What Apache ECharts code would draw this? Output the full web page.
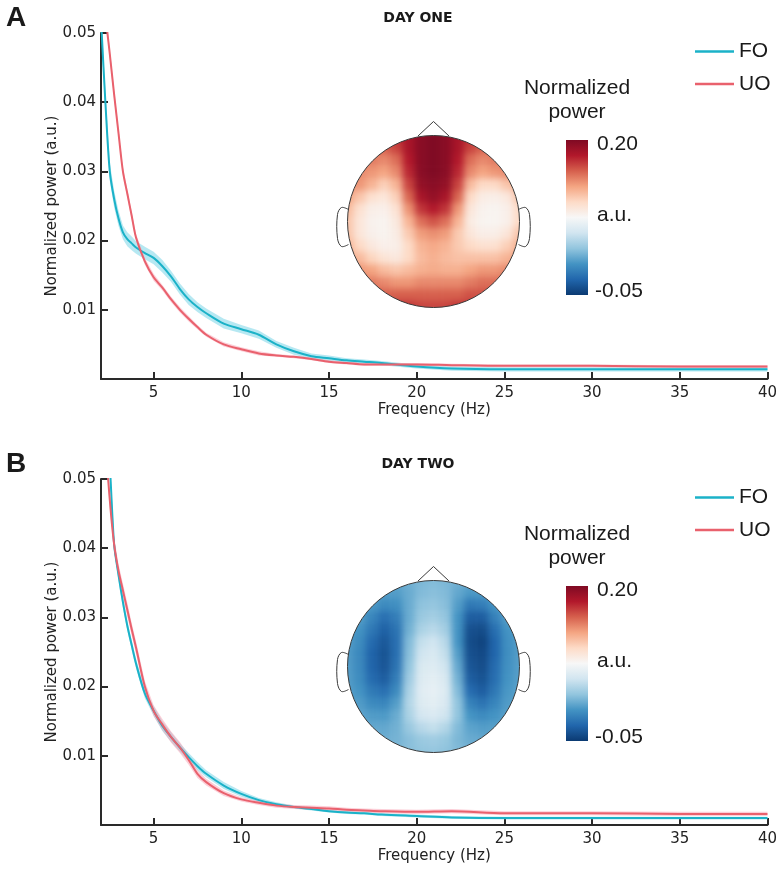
<!DOCTYPE html>
<html>
<head>
<meta charset="utf-8">
<title>Normalized power spectra, day one and day two</title>
<script src="https://cdn.jsdelivr.net/npm/echarts@6.0.0/dist/echarts.min.js"></script>
<style>
  html, body { margin: 0; padding: 0; background: #fff; }
  #wrap { position: relative; width: 780px; height: 870px; }
  #topo, #main { position: absolute; left: 0; top: 0; width: 780px; height: 870px; }
  /* scalp maps sit under the line chart, softened so the cells read as a smooth map */
  #topo { z-index: 1; filter: blur(3.5px); }
  #main { z-index: 2; }
</style>
</head>
<body>
<div id="wrap"><div id="topo"></div><div id="main"></div></div>
<script>
// ---- data ----
const freqs = [2, 2.25, 2.5, 2.75, 3, 3.25, 3.5, 3.75, 4, 4.5, 5, 5.5, 6, 6.5, 7, 7.5, 8,
  9, 10, 11, 12, 13, 14, 15, 16, 17, 18, 20, 22, 25, 30, 35, 40];

// day one
const foDay1 = [0.052, 0.040, 0.030, 0.026, 0.0232, 0.0212, 0.0202, 0.0196, 0.0190,
  0.0182, 0.0175, 0.0163, 0.0148, 0.0130, 0.0115, 0.0104, 0.0095,
  0.0080, 0.0072, 0.0064, 0.0050, 0.0040, 0.0033, 0.0030, 0.0027, 0.0025, 0.0023,
  0.0018, 0.0015, 0.0014, 0.0014, 0.0014, 0.0014];
const uoDay1 = [0.065, 0.053, 0.047, 0.0411, 0.0355, 0.0300, 0.0268, 0.0236, 0.0204,
  0.0170, 0.0147, 0.0132, 0.0115, 0.0100, 0.0087, 0.0075, 0.0064,
  0.0050, 0.0043, 0.0037, 0.0034, 0.0032, 0.0029, 0.0025, 0.0023, 0.0021, 0.0021,
  0.0021, 0.0020, 0.0019, 0.0019, 0.0018, 0.0018];
const foDay1Sem = [0.0015, 0.0014, 0.0013, 0.0012, 0.0011, 0.0010, 0.0010, 0.0010, 0.0009,
  0.0009, 0.0009, 0.0009, 0.0008, 0.0008, 0.0008, 0.0007, 0.0007,
  0.0007, 0.0006, 0.0006, 0.0005, 0.0005, 0.0004, 0.0004, 0.0003, 0.0003, 0.0003,
  0.0003, 0.0003, 0.0003, 0.0003, 0.0003, 0.0003];
const uoDay1Sem = [0.0008, 0.0008, 0.0007, 0.0007, 0.0006, 0.0006, 0.0006, 0.0005, 0.0005,
  0.0005, 0.0005, 0.0004, 0.0004, 0.0004, 0.0004, 0.0003, 0.0003,
  0.0003, 0.0003, 0.0003, 0.0002, 0.0002, 0.0002, 0.0002, 0.0002, 0.0002, 0.0002,
  0.0002, 0.0002, 0.0002, 0.0002, 0.0002, 0.0002];

// day two
const foDay2 = [0.075, 0.060, 0.052, 0.0405, 0.0361, 0.0322, 0.0288, 0.0260, 0.0233,
  0.0190, 0.0165, 0.0143, 0.0127, 0.0112, 0.0098, 0.0085, 0.0074,
  0.0057, 0.0045, 0.0036, 0.0030, 0.0026, 0.0023, 0.0020, 0.0018, 0.0017, 0.0015,
  0.0013, 0.0011, 0.0010, 0.0010, 0.0010, 0.0010];
const uoDay2 = [0.070, 0.056, 0.047, 0.0405, 0.0367, 0.0339, 0.0311, 0.0283, 0.0256,
  0.0200, 0.0165, 0.0145, 0.0127, 0.0112, 0.0094, 0.0074, 0.0062,
  0.0046, 0.0037, 0.0032, 0.0028, 0.0026, 0.0025, 0.0024, 0.0022, 0.0021, 0.0020,
  0.0019, 0.0020, 0.0017, 0.0017, 0.0016, 0.0016];
const foDay2Sem = [0.0012, 0.0011, 0.0010, 0.0009, 0.0008, 0.0008, 0.0007, 0.0007, 0.0007,
  0.0007, 0.0007, 0.0007, 0.0007, 0.0006, 0.0006, 0.0006, 0.0005,
  0.0005, 0.0004, 0.0003, 0.0003, 0.0002, 0.0002, 0.0002, 0.0002, 0.0002, 0.0002,
  0.0002, 0.0002, 0.0002, 0.0002, 0.0002, 0.0002];
const uoDay2Sem = [0.0014, 0.0013, 0.0012, 0.0011, 0.0010, 0.0010, 0.0010, 0.0009, 0.0009,
  0.0008, 0.0008, 0.0008, 0.0008, 0.0008, 0.0007, 0.0006, 0.0005,
  0.0004, 0.0003, 0.0003, 0.0003, 0.0003, 0.0003, 0.0003, 0.0003, 0.0003, 0.0003,
  0.0003, 0.0003, 0.0003, 0.0003, 0.0003, 0.0003];

const xTicks = [5, 10, 15, 20, 25, 30, 35, 40];
const yTicks = [0.01, 0.02, 0.03, 0.04, 0.05];
const panelTitles = ['DAY ONE', 'DAY TWO'];
const panelLetters = ['A', 'B'];
const colorbarLabels = ['0.20', 'a.u.', '-0.05'];
const colorRange = [-0.05, 0.20];

// scalp maps, rows front (top) to back, columns left to right
const topoDay1 = [
  [0.150, 0.150, 0.150, 0.160, 0.170, 0.180, 0.195, 0.200, 0.195, 0.180, 0.170, 0.160, 0.150, 0.150, 0.150],
  [0.140, 0.140, 0.140, 0.150, 0.160, 0.180, 0.195, 0.200, 0.195, 0.180, 0.160, 0.150, 0.140, 0.140, 0.140],
  [0.140, 0.140, 0.140, 0.135, 0.145, 0.175, 0.195, 0.200, 0.195, 0.175, 0.145, 0.135, 0.140, 0.140, 0.140],
  [0.135, 0.135, 0.130, 0.125, 0.135, 0.170, 0.195, 0.200, 0.195, 0.170, 0.135, 0.125, 0.130, 0.135, 0.135],
  [0.135, 0.130, 0.118, 0.105, 0.118, 0.160, 0.190, 0.195, 0.190, 0.160, 0.115, 0.100, 0.100, 0.110, 0.125],
  [0.125, 0.110, 0.095, 0.090, 0.105, 0.148, 0.180, 0.190, 0.180, 0.148, 0.100, 0.085, 0.083, 0.088, 0.110],
  [0.115, 0.095, 0.083, 0.082, 0.094, 0.132, 0.165, 0.175, 0.165, 0.130, 0.090, 0.080, 0.078, 0.082, 0.100],
  [0.110, 0.090, 0.080, 0.079, 0.088, 0.118, 0.145, 0.155, 0.145, 0.118, 0.086, 0.079, 0.078, 0.082, 0.100],
  [0.110, 0.090, 0.081, 0.079, 0.085, 0.108, 0.128, 0.133, 0.128, 0.108, 0.090, 0.083, 0.083, 0.090, 0.110],
  [0.118, 0.100, 0.088, 0.082, 0.083, 0.100, 0.118, 0.123, 0.118, 0.108, 0.100, 0.095, 0.095, 0.105, 0.120],
  [0.125, 0.115, 0.102, 0.092, 0.088, 0.100, 0.115, 0.120, 0.115, 0.112, 0.112, 0.112, 0.112, 0.118, 0.128],
  [0.140, 0.130, 0.125, 0.115, 0.110, 0.115, 0.120, 0.122, 0.120, 0.120, 0.125, 0.130, 0.130, 0.135, 0.140],
  [0.150, 0.145, 0.140, 0.135, 0.130, 0.130, 0.135, 0.135, 0.135, 0.135, 0.140, 0.145, 0.145, 0.150, 0.150],
  [0.160, 0.160, 0.155, 0.150, 0.150, 0.150, 0.150, 0.150, 0.150, 0.150, 0.155, 0.155, 0.160, 0.160, 0.160],
  [0.170, 0.170, 0.165, 0.165, 0.165, 0.165, 0.160, 0.160, 0.160, 0.165, 0.165, 0.165, 0.170, 0.170, 0.170]
];
const topoDay2 = [
  [0.010, 0.010, 0.010, 0.010, 0.012, 0.015, 0.018, 0.020, 0.018, 0.015, 0.012, 0.010, 0.010, 0.010, 0.010],
  [0.010, 0.010, 0.008, 0.005, 0.005, 0.012, 0.020, 0.022, 0.020, 0.010, 0.003, 0.003, 0.006, 0.010, 0.010],
  [0.008, 0.008, 0.003, -0.005, -0.002, 0.012, 0.024, 0.026, 0.022, 0.005, -0.015, -0.012, 0.000, 0.008, 0.010],
  [0.008, 0.005, -0.008, -0.020, -0.012, 0.012, 0.028, 0.032, 0.026, 0.000, -0.030, -0.030, -0.010, 0.005, 0.008],
  [0.006, 0.000, -0.015, -0.028, -0.018, 0.015, 0.035, 0.040, 0.032, 0.000, -0.038, -0.040, -0.020, 0.000, 0.006],
  [0.005, -0.004, -0.022, -0.033, -0.020, 0.020, 0.045, 0.050, 0.040, 0.000, -0.040, -0.045, -0.025, -0.002, 0.005],
  [0.004, -0.006, -0.026, -0.036, -0.020, 0.022, 0.050, 0.055, 0.045, 0.005, -0.038, -0.042, -0.025, -0.003, 0.005],
  [0.004, -0.006, -0.026, -0.035, -0.018, 0.025, 0.055, 0.058, 0.050, 0.010, -0.035, -0.040, -0.022, -0.002, 0.005],
  [0.005, -0.004, -0.022, -0.030, -0.012, 0.030, 0.058, 0.062, 0.055, 0.015, -0.030, -0.036, -0.020, 0.000, 0.006],
  [0.006, 0.000, -0.014, -0.020, -0.005, 0.035, 0.060, 0.064, 0.058, 0.020, -0.022, -0.030, -0.015, 0.002, 0.007],
  [0.008, 0.004, -0.005, -0.008, 0.005, 0.038, 0.058, 0.062, 0.056, 0.025, -0.010, -0.018, -0.008, 0.004, 0.008],
  [0.010, 0.008, 0.004, 0.003, 0.012, 0.035, 0.052, 0.056, 0.050, 0.025, 0.000, -0.005, 0.000, 0.006, 0.010],
  [0.012, 0.010, 0.010, 0.010, 0.015, 0.028, 0.040, 0.045, 0.038, 0.020, 0.008, 0.005, 0.006, 0.010, 0.012],
  [0.014, 0.013, 0.013, 0.013, 0.016, 0.022, 0.028, 0.030, 0.027, 0.018, 0.012, 0.010, 0.010, 0.012, 0.014],
  [0.016, 0.016, 0.016, 0.016, 0.018, 0.022, 0.025, 0.026, 0.024, 0.020, 0.016, 0.014, 0.014, 0.015, 0.016]
];

// ---- styling ----
const CYAN = '#1bb2c8';
const RED = '#e9616d';
const CYAN_BAND = 'rgba(110, 210, 230, 0.5)';
const RED_BAND = 'rgba(250, 160, 178, 0.5)';
const AXIS_COLOR = '#2a2a2a';
const AXIS_FONT = 'DejaVu Sans';
const SANS = '"Liberation Sans", Arial, sans-serif';
const RDBU = ['#0b3a72', '#2166ac', '#4393c3', '#92c5de', '#d1e5f0', '#f7f7f7',
  '#fddbc7', '#f4a582', '#d6604d', '#b2182b', '#7f0a23'];

const PANEL_DY = 446;                 // vertical offset of panel B
const HEAD = { cx: 433.5, cy: 221.5, r: 86, half: 92 };

const toPairs = ys => freqs.map((f, i) => [f, ys[i]]);

// shaded mean +/- sem band, drawn as one polygon through the grid's scales
function bandSeries(k, mean, sem, color) {
  const data = freqs.map((f, i) => [f, mean[i] - sem[i], mean[i] + sem[i]]);
  return {
    type: 'custom', xAxisIndex: k, yAxisIndex: k, silent: true, clip: true, z: 2,
    data, encode: { x: 0, y: [1, 2] },
    renderItem(params, api) {
      if (params.dataIndex !== 0) return null;
      const upper = data.map(d => api.coord([d[0], d[2]]));
      const lower = data.map(d => api.coord([d[0], d[1]])).reverse();
      return { type: 'polygon', shape: { points: upper.concat(lower) }, style: { fill: color } };
    }
  };
}

function lineSeries(k, name, ys, color) {
  return {
    type: 'line', name, xAxisIndex: k, yAxisIndex: k, data: toPairs(ys),
    symbol: 'none', smooth: 0.3, z: 4,
    lineStyle: { color, width: 2 }, itemStyle: { color }
  };
}

function xAxisFor(k) {
  return {
    type: 'value', gridIndex: k, min: 2, max: 40,
    name: 'Frequency (Hz)', nameLocation: 'middle', nameGap: 24, nameMoveOverlap: false,
    nameTextStyle: { fontFamily: AXIS_FONT, fontSize: 15, color: '#222' },
    axisLine: { show: true, onZero: false, lineStyle: { color: AXIS_COLOR, width: 2 } },
    axisTick: { show: true, inside: true, length: 7, customValues: xTicks,
      lineStyle: { color: AXIS_COLOR, width: 2 } },
    axisLabel: { customValues: xTicks, fontFamily: AXIS_FONT, fontSize: 15, color: '#222', margin: 7 },
    splitLine: { show: false }
  };
}

function yAxisFor(k) {
  return {
    type: 'value', gridIndex: k, min: 0, max: 0.05,
    name: 'Normalized power (a.u.)', nameLocation: 'middle', nameGap: 41, nameMoveOverlap: false,
    nameTextStyle: { fontFamily: AXIS_FONT, fontSize: 15, color: '#222' },
    axisLine: { show: true, onZero: false, lineStyle: { color: AXIS_COLOR, width: 2 } },
    axisTick: { show: true, inside: true, length: 7, customValues: yTicks,
      lineStyle: { color: AXIS_COLOR, width: 2 } },
    axisLabel: { customValues: yTicks, fontFamily: AXIS_FONT, fontSize: 15, color: '#222', margin: 5,
      formatter: v => v.toFixed(2) },
    splitLine: { show: false }
  };
}

function text(x, y, str, font, align, fill) {
  return { type: 'text', x, y, z: 100, silent: true,
    style: { text: str, font, fill: fill || '#1a1a1a', align: align || 'center', verticalAlign: 'middle' } };
}

const outline = { fill: 'none', stroke: '#3a3a3a', lineWidth: 1 };

// one ear as a smoothed polyline; side is -1 (left) or 1 (right)
function ear(cx, hy, r, side) {
  const e = cx + side * r;
  return { type: 'polyline', z: 90, silent: true, style: outline,
    shape: { smooth: 0.35, points: [
      [e - side, hy - 12], [e + side * 6, hy - 14], [e + side * 10, hy - 7],
      [e + side * 10, hy + 17], [e + side * 6, hy + 25], [e - side, hy + 23]
    ] } };
}

// decoration for one panel: letter, title, colour bar, head outline
function panelGraphics(k) {
  const dy = PANEL_DY * k;
  const hy = HEAD.cy + 445 * k;
  const cx = HEAD.cx, r = HEAD.r;
  const stops = RDBU.slice().reverse().map((c, i, a) => ({ offset: i / (a.length - 1), color: c }));
  const grad = { type: 'linear', x: 0, y: 0, x2: 0, y2: 1, colorStops: stops };
  return [
    // white ring hiding the square corners of the scalp map
    { type: 'circle', z: 1, silent: true, shape: { cx, cy: hy, r: r + 32 },
      style: { fill: 'none', stroke: '#fff', lineWidth: 64 } },
    { type: 'circle', z: 90, silent: true, shape: { cx, cy: hy, r }, style: outline },
    { type: 'polyline', z: 90, silent: true, style: outline,
      shape: { points: [[cx - 15.5, hy - r + 0.5], [cx, hy - r - 14], [cx + 15.5, hy - r + 0.5]] } },
    ear(cx, hy, r, -1),
    ear(cx, hy, r, 1),
    text(16, 18 + dy, panelLetters[k], `bold 28px ${SANS}`),
    text(418, 18.5 + dy, panelTitles[k], `bold 14px "${AXIS_FONT}"`),
    text(577, 88 + dy, 'Normalized', `21px ${SANS}`),
    text(577, 112 + dy, 'power', `21px ${SANS}`),
    { type: 'rect', z: 100, silent: true, shape: { x: 566, y: 140 + dy, width: 22, height: 155 },
      style: { fill: grad } },
    text(597, 144.5 + dy, colorbarLabels[0], `21px ${SANS}`, 'left'),
    text(597, 215 + dy, colorbarLabels[1], `21px ${SANS}`, 'left'),
    text(595, 291.5 + dy, colorbarLabels[2], `21px ${SANS}`, 'left')
  ];
}

// ---- main chart: spectra ----
const main = echarts.init(document.getElementById('main'));
main.setOption({
  backgroundColor: 'transparent',
  animation: false,
  grid: [
    { left: 101, top: 33, width: 667, height: 346 },
    { left: 101, top: 33 + PANEL_DY, width: 667, height: 346 }
  ],
  xAxis: [xAxisFor(0), xAxisFor(1)],
  yAxis: [yAxisFor(0), yAxisFor(1)],
  legend: [0, 1].map(k => ({
    data: ['FO', 'UO'], orient: 'vertical', left: 695, top: 41 + PANEL_DY * k, padding: 0,
    icon: 'rect', itemWidth: 39, itemHeight: 2.5, itemGap: 11.5, selectedMode: false,
    textStyle: { fontFamily: SANS, fontSize: 21, color: '#1a1a1a' }
  })),
  series: [
    bandSeries(0, foDay1, foDay1Sem, CYAN_BAND),
    bandSeries(0, uoDay1, uoDay1Sem, RED_BAND),
    lineSeries(0, 'FO', foDay1, CYAN),
    lineSeries(0, 'UO', uoDay1, RED),
    bandSeries(1, foDay2, foDay2Sem, CYAN_BAND),
    bandSeries(1, uoDay2, uoDay2Sem, RED_BAND),
    lineSeries(1, 'FO', foDay2, CYAN),
    lineSeries(1, 'UO', uoDay2, RED)
  ],
  graphic: [...panelGraphics(0), ...panelGraphics(1)]
});

// ---- scalp maps ----
function heatData(m) {
  const out = [];
  m.forEach((row, j) => row.forEach((v, i) => out.push([i, j, v])));
  return out;
}
const cols = topoDay1[0].map((_, i) => i);
const rows = topoDay1.map((_, j) => j);
const topo = echarts.init(document.getElementById('topo'));
topo.setOption({
  backgroundColor: 'transparent',
  animation: false,
  grid: [0, 1].map(k => ({
    left: HEAD.cx - HEAD.half, top: HEAD.cy - HEAD.half + 445 * k,
    width: HEAD.half * 2, height: HEAD.half * 2
  })),
  xAxis: [0, 1].map(k => ({ type: 'category', gridIndex: k, data: cols, show: false })),
  yAxis: [0, 1].map(k => ({ type: 'category', gridIndex: k, data: rows, show: false, inverse: true })),
  visualMap: {
    type: 'continuous', show: false, min: colorRange[0], max: colorRange[1],
    seriesIndex: [0, 1], inRange: { color: RDBU }
  },
  series: [topoDay1, topoDay2].map((m, k) => ({
    type: 'heatmap', xAxisIndex: k, yAxisIndex: k, data: heatData(m),
    itemStyle: { borderWidth: 0 }, emphasis: { disabled: true }
  }))
});
</script>
</body>
</html>
